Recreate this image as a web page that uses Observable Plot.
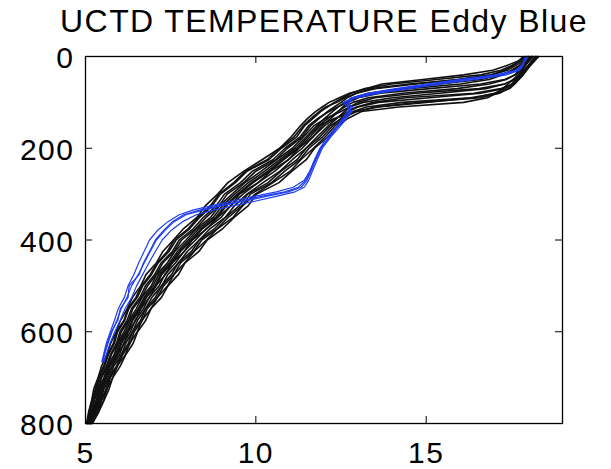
<!DOCTYPE html>
<html>
<head>
<meta charset="utf-8">
<script src="https://cdn.jsdelivr.net/npm/d3@7"></script>
<script src="https://cdn.jsdelivr.net/npm/@observablehq/plot@0.6"></script>
<style>
  html, body { margin: 0; padding: 0; background: #fff; }
  #chart svg { display: block; }
</style>
</head>
<body>
<div id="chart"></div>
<script>
// Temperature (°C) against depth (m) for UCTD casts; blue casts sampled inside the eddy.
const titleText = "UCTD TEMPERATURE Eddy Blue";
const xTicks = [5, 10, 15];
const yTicks = [0, 200, 400, 600, 800];

// Depth levels (m) of the casts outside the eddy
const castDepths = [0, 10, 20, 30, 40, 50, 60, 70, 80, 90, 100, 110, 120, 135,
  150, 175, 200, 225, 250, 275, 300, 325, 350, 375, 400, 425, 450, 475, 500,
  525, 550, 575, 600, 625, 650, 675, 700, 725, 750, 775, 800];

// Temperatures of the casts outside the eddy (black)
const t01 = [17.85, 17.7, 17.35, 16.95, 16.1, 14.9, 13.7, 13.25, 12.75, 12.45, 12.15, 11.95, 11.75, 11.52, 11.32, 11.04, 10.7, 10.18, 9.65, 9.18, 8.88, 8.52, 8.28, 7.88, 7.58, 7.27, 7.08, 6.78, 6.62, 6.38, 6.22, 6.03, 5.9, 5.74, 5.63, 5.47, 5.37, 5.24, 5.18, 5.09, 5.03];
const t02 = [17.95, 17.75, 17.5, 17.2, 16.6, 15.3, 14.0, 13.2, 12.8, 12.55, 12.3, 12.1, 11.9, 11.68, 11.44, 11.2, 10.75, 10.38, 9.74, 9.4, 8.96, 8.72, 8.36, 8.06, 7.66, 7.45, 7.13, 6.94, 6.68, 6.52, 6.27, 6.15, 5.94, 5.85, 5.67, 5.56, 5.4, 5.32, 5.2, 5.14, 5.04];
const t03 = [18.0, 17.82, 17.62, 17.38, 16.95, 16.0, 14.5, 13.4, 12.95, 12.68, 12.5, 12.3, 12.1, 11.86, 11.62, 11.36, 10.93, 10.58, 10.0, 9.64, 9.16, 8.92, 8.55, 8.24, 7.82, 7.6, 7.27, 7.08, 6.82, 6.65, 6.39, 6.27, 6.05, 5.95, 5.76, 5.65, 5.47, 5.39, 5.26, 5.19, 5.07];
const t04 = [17.9, 17.72, 17.55, 17.3, 16.9, 15.9, 14.7, 13.5, 12.95, 12.62, 12.38, 12.05, 11.86, 11.62, 11.4, 11.12, 10.7, 10.33, 9.7, 9.35, 8.92, 8.67, 8.31, 8.02, 7.6, 7.4, 7.1, 6.9, 6.64, 6.48, 6.24, 6.13, 5.91, 5.82, 5.65, 5.53, 5.38, 5.29, 5.19, 5.11, 5.04];
const t05 = [18.1, 17.95, 17.78, 17.55, 17.2, 16.6, 15.4, 14.3, 13.3, 12.85, 12.6, 12.42, 12.25, 12.02, 11.8, 11.48, 11.14, 10.7, 10.26, 9.78, 9.38, 9.02, 8.76, 8.33, 8.02, 7.7, 7.46, 7.15, 6.98, 6.72, 6.55, 6.32, 6.18, 5.99, 5.88, 5.68, 5.57, 5.42, 5.34, 5.21, 5.1];
const t06 = [18.0, 17.88, 17.72, 17.5, 17.25, 16.85, 16.0, 14.5, 13.45, 12.98, 12.68, 12.4, 12.15, 11.82, 11.56, 11.3, 10.86, 10.5, 9.9, 9.55, 9.08, 8.84, 8.47, 8.17, 7.75, 7.55, 7.22, 7.03, 6.76, 6.6, 6.35, 6.22, 6.01, 5.91, 5.73, 5.61, 5.44, 5.35, 5.24, 5.17, 5.06];
const t07 = [18.15, 18.02, 17.9, 17.78, 17.62, 17.3, 16.6, 15.1, 13.65, 13.0, 12.72, 12.55, 12.42, 12.2, 11.96, 11.68, 11.26, 10.96, 10.44, 10.07, 9.52, 9.28, 8.89, 8.57, 8.13, 7.9, 7.54, 7.35, 7.06, 6.88, 6.62, 6.48, 6.25, 6.14, 5.94, 5.8, 5.61, 5.52, 5.37, 5.27, 5.12];
const t08 = [18.05, 17.95, 17.85, 17.72, 17.6, 17.35, 16.85, 15.9, 14.3, 13.3, 12.85, 12.6, 12.4, 12.12, 11.86, 11.53, 11.21, 10.77, 10.35, 9.87, 9.46, 9.1, 8.83, 8.4, 8.08, 7.75, 7.51, 7.2, 7.04, 6.76, 6.58, 6.37, 6.22, 6.03, 5.92, 5.71, 5.6, 5.44, 5.36, 5.22, 5.11];
const t09 = [18.2, 18.1, 18.0, 17.9, 17.8, 17.62, 17.3, 16.55, 14.7, 13.5, 13.0, 12.75, 12.6, 12.38, 12.14, 11.8, 11.47, 11.07, 10.71, 10.21, 9.74, 9.38, 9.11, 8.66, 8.34, 7.99, 7.73, 7.42, 7.24, 6.95, 6.76, 6.53, 6.38, 6.18, 6.06, 5.83, 5.71, 5.54, 5.45, 5.29, 5.15];
const t10 = [18.1, 18.0, 17.9, 17.8, 17.72, 17.58, 17.3, 16.75, 15.4, 14.0, 13.15, 12.75, 12.5, 12.05, 11.72, 11.4, 11.07, 10.61, 10.16, 9.68, 9.3, 8.94, 8.68, 8.26, 7.95, 7.62, 7.4, 7.09, 6.93, 6.66, 6.49, 6.28, 6.13, 5.95, 5.84, 5.64, 5.54, 5.38, 5.31, 5.19, 5.09];
const t11 = [18.25, 18.15, 18.05, 17.95, 17.85, 17.72, 17.55, 17.2, 16.4, 14.4, 13.45, 12.95, 12.72, 12.5, 12.27, 11.96, 11.56, 11.29, 10.85, 10.46, 9.84, 9.6, 9.2, 8.87, 8.41, 8.18, 7.79, 7.6, 7.29, 7.11, 6.81, 6.67, 6.43, 6.31, 6.09, 5.94, 5.73, 5.63, 5.47, 5.35, 5.17];
const t12 = [18.2, 18.12, 18.02, 17.92, 17.82, 17.7, 17.55, 17.25, 16.6, 15.1, 13.6, 13.0, 12.7, 12.35, 12.03, 11.68, 11.36, 10.95, 10.56, 10.07, 9.62, 9.26, 8.99, 8.55, 8.23, 7.89, 7.64, 7.33, 7.16, 6.87, 6.7, 6.46, 6.32, 6.12, 6.0, 5.78, 5.67, 5.5, 5.42, 5.26, 5.14];
const t13 = [18.3, 18.18, 18.05, 17.92, 17.82, 17.72, 17.6, 17.45, 17.1, 16.3, 14.3, 13.25, 12.85, 12.58, 12.34, 12.04, 11.69, 11.32, 11.01, 10.5, 9.98, 9.62, 9.34, 8.88, 8.55, 8.19, 7.91, 7.6, 7.41, 7.11, 6.92, 6.66, 6.52, 6.3, 6.17, 5.93, 5.8, 5.63, 5.53, 5.35, 5.19];
const t14 = [18.3, 18.15, 18.0, 17.85, 17.7, 17.55, 17.4, 17.25, 17.05, 16.8, 16.1, 14.2, 13.1, 12.7, 12.43, 12.12, 11.72, 11.48, 11.06, 10.68, 10.02, 9.78, 9.37, 9.03, 8.57, 8.33, 7.92, 7.73, 7.42, 7.23, 6.92, 6.77, 6.53, 6.4, 6.18, 6.02, 5.8, 5.69, 5.54, 5.39, 5.2];
const t15 = [18.25, 18.1, 17.98, 17.88, 17.78, 17.68, 17.55, 17.4, 17.15, 16.6, 14.8, 13.5, 12.95, 12.52, 12.2, 11.88, 11.48, 11.21, 10.74, 10.36, 9.76, 9.52, 9.12, 8.79, 8.34, 8.11, 7.72, 7.53, 7.23, 7.05, 6.76, 6.62, 6.38, 6.26, 6.05, 5.91, 5.7, 5.6, 5.46, 5.33, 5.16];
const t16 = [18.1, 18.0, 17.9, 17.82, 17.74, 17.65, 17.5, 17.32, 17.0, 16.4, 15.0, 13.6, 12.95, 12.3, 11.9, 11.6, 11.25, 10.82, 10.41, 9.92, 9.5, 9.14, 8.88, 8.44, 8.13, 7.79, 7.55, 7.24, 7.07, 6.79, 6.62, 6.39, 6.25, 6.06, 5.94, 5.73, 5.62, 5.46, 5.38, 5.24, 5.12];

// Depth levels (m) of the eddy casts
const eddyDepths = [0, 10, 20, 30, 40, 50, 60, 70, 80, 90, 100, 110, 120, 135,
  150, 175, 200, 225, 250, 270, 285, 295, 305, 315, 325, 335, 345, 360, 380,
  400, 425, 450, 475, 500, 525, 550, 575, 600, 625, 650, 665];

// Temperatures of the eddy casts (blue)
const e1 = [17.95, 17.88, 17.82, 17.7, 17.2, 16.2, 15.2, 14.25, 13.4, 12.85, 12.7, 12.78, 12.72, 12.62, 12.45, 12.15, 11.92, 11.76, 11.62, 11.5, 11.33, 10.95, 10.3, 9.7, 9.0, 8.45, 7.95, 7.6, 7.32, 7.08, 6.9, 6.72, 6.55, 6.35, 6.22, 6.05, 5.92, 5.78, 5.66, 5.56, 5.5];
const e2 = [17.98, 17.9, 17.8, 17.62, 17.05, 16.0, 15.0, 14.1, 13.3, 12.8, 12.62, 12.85, 12.68, 12.55, 12.4, 12.1, 11.88, 11.72, 11.58, 11.42, 11.1, 10.6, 9.95, 9.3, 8.7, 8.15, 7.75, 7.42, 7.1, 6.88, 6.72, 6.56, 6.42, 6.25, 6.14, 5.96, 5.85, 5.73, 5.61, 5.53, 5.48];
const e3 = [17.92, 17.86, 17.84, 17.74, 17.35, 16.45, 15.45, 14.5, 13.6, 12.95, 12.55, 12.7, 12.82, 12.66, 12.5, 12.2, 11.95, 11.8, 11.66, 11.55, 11.42, 11.15, 10.6, 10.0, 9.35, 8.75, 8.25, 7.85, 7.5, 7.25, 7.05, 6.86, 6.68, 6.5, 6.36, 6.16, 6.02, 5.86, 5.72, 5.61, 5.54];
const e4 = [17.96, 17.9, 17.78, 17.66, 17.15, 16.15, 15.25, 14.3, 13.45, 12.88, 12.75, 12.68, 12.78, 12.6, 12.42, 12.18, 11.9, 11.74, 11.6, 11.46, 11.25, 10.85, 10.15, 9.55, 8.9, 8.35, 7.88, 7.55, 7.28, 7.05, 6.88, 6.7, 6.58, 6.28, 6.25, 6.02, 5.95, 5.76, 5.64, 5.55, 5.5];

const outsideCasts = [t01, t02, t03, t04, t05, t06, t07, t08, t09, t10, t11, t12, t13, t14, t15, t16];
const eddyCasts = [e1, e2, e3, e4];

// Long-format rows: one per (cast, depth) sample
function toRows(casts, depths, group) {
  const rows = [];
  casts.forEach((temps, i) => {
    const n = Math.min(temps.length, depths.length);
    for (let j = 0; j < n; j++) rows.push({cast: `${group}${i}`, depth: depths[j], temp: temps[j]});
  });
  return rows;
}
const outsideRows = toRows(outsideCasts, castDepths, "out");
const eddyRows = toRows(eddyCasts, eddyDepths, "eddy");

const W = 611, H = 469;
const margin = {top: 56, right: 49, bottom: 46, left: 85};
const frameW = W - margin.left - margin.right;
const frameH = H - margin.top - margin.bottom;
const tickLen = 7;
const labelSize = 30;

const chart = Plot.plot({
  width: W,
  height: H,
  marginTop: margin.top,
  marginRight: margin.right,
  marginBottom: margin.bottom,
  marginLeft: margin.left,
  style: {fontFamily: "'Liberation Sans', Arial, Helvetica, sans-serif", background: "#fff", color: "#000"},
  x: {domain: [5, 19], axis: null},
  y: {domain: [0, 800], reverse: true, axis: null},
  marks: [
    Plot.line(outsideRows, {x: "temp", y: "depth", z: "cast", stroke: "#111", strokeWidth: 1.6}),
    Plot.line(eddyRows, {x: "temp", y: "depth", z: "cast", stroke: "#1f3cf0", strokeWidth: 1.2}),
    Plot.frame({stroke: "#000", strokeWidth: 1.3}),
    // inward ticks on all four sides
    Plot.tickX(xTicks, {x: d => d, insetTop: frameH - tickLen, stroke: "#000"}),
    Plot.tickX(xTicks, {x: d => d, insetBottom: frameH - tickLen, stroke: "#000"}),
    Plot.tickY(yTicks, {y: d => d, insetRight: frameW - tickLen, stroke: "#000"}),
    Plot.tickY(yTicks, {y: d => d, insetLeft: frameW - tickLen, stroke: "#000"}),
    Plot.axisX(xTicks, {anchor: "bottom", tickSize: 0, tickPadding: 18, fontSize: labelSize, label: null}),
    Plot.axisY(yTicks, {anchor: "left", tickSize: 0, tickPadding: 11, fontSize: labelSize, label: null, dy: 2}),
    Plot.text([titleText], {frameAnchor: "top", text: d => d, dy: -35, fontSize: 32, lineAnchor: "middle", fill: "#000"})
  ]
});

document.getElementById("chart").appendChild(chart);

// slightly wider lettering, set on each text element directly
d3.select(chart).selectAll("text").each(function() {
  const isTitle = this.textContent === titleText;
  this.setAttribute("letter-spacing", isTitle ? "1.4" : "1.5");
});
</script>
</body>
</html>
